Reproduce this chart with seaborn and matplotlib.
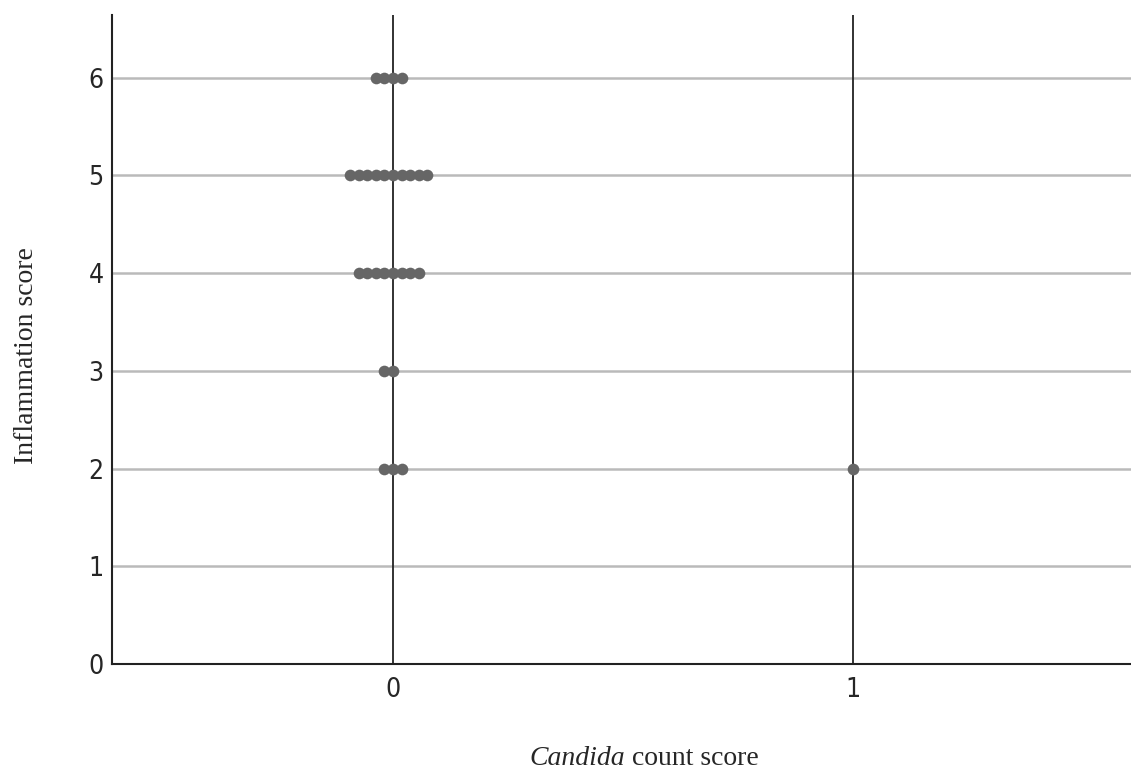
import pandas as pd
import seaborn as sns
import matplotlib.pyplot as plt

# Candida count score per patient and their inflammation score
candida_zero_scores = [6] * 4 + [5] * 10 + [4] * 8 + [3] * 2 + [2] * 3
candida_one_scores = [2]
x_categories = ["0", "1"]
y_ticks = [0, 1, 2, 3, 4, 5, 6]

df = pd.DataFrame({
    "candida": ["0"] * len(candida_zero_scores) + ["1"] * len(candida_one_scores),
    "inflammation": candida_zero_scores + candida_one_scores,
})

sns.set_style("white")
plt.rcParams['font.family'] = ['DejaVu Sans']
plt.rcParams['font.stretch'] = 'condensed'

fig = plt.figure(figsize=(11.31, 7.76), dpi=100)
ax = fig.add_axes([0.099, 0.1443, 0.901, 0.8364])

for yv in y_ticks[1:]:
    ax.axhline(yv, color="#bababa", linewidth=1.8, zorder=0)
for i in range(len(x_categories)):
    ax.axvline(i, color="#222222", linewidth=1.3, zorder=1)

# swarm laid out with small markers, then markers enlarged so they overlap
sns.swarmplot(data=df, x="candida", y="inflammation", order=x_categories,
              color="#666666", size=5.9, linewidth=0, ax=ax, zorder=3)

ax.set_xlim(-0.611, 1.604)
ax.set_ylim(0, 6.64)
fig.canvas.draw()
for coll in ax.collections:
    if "draw" in coll.__dict__:
        del coll.draw
    coll.set_sizes([8.4 ** 2])

ax.set_yticks(y_ticks)
ax.tick_params(axis="y", length=0, labelsize=19, pad=6)
ax.tick_params(axis="x", length=0, labelsize=19, pad=9)
for s in ["top", "right"]:
    ax.spines[s].set_visible(False)
for s in ["left", "bottom"]:
    ax.spines[s].set_color("#222222")
    ax.spines[s].set_linewidth(1.5)

ax.set_xlabel("")
fig.text(0.553, 0.007, "Candida", fontsize=20, family="Liberation Serif",
         style="italic", stretch="normal", ha="right", va="bottom")
fig.text(0.553, 0.007, " count score", fontsize=20, family="Liberation Serif",
         stretch="normal", ha="left", va="bottom")
ax.set_ylabel("Inflammation score", fontsize=20, family="Liberation Serif",
              fontstretch="normal")
ax.yaxis.set_label_coords(-0.072, 0.4746)

fig.savefig("out.png", dpi=100)
